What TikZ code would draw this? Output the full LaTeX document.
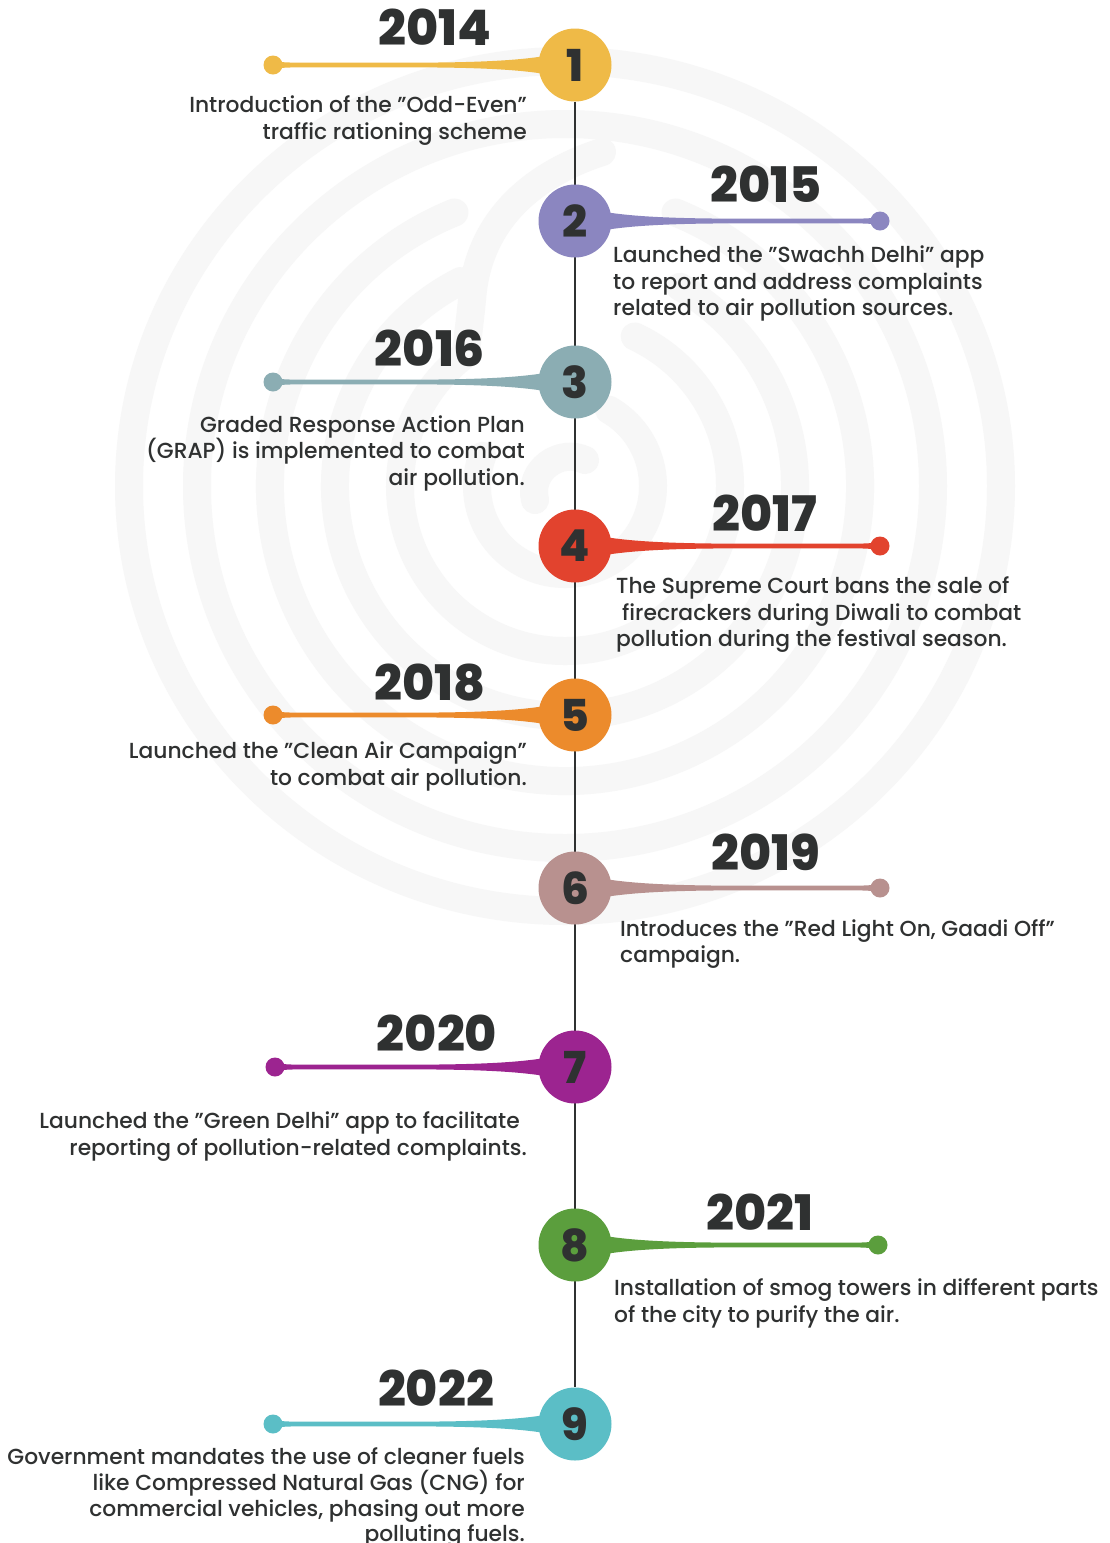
\documentclass[tikz,border=0pt]{standalone}
\usepackage{fontspec}
\setmainfont{Poppins}[UprightFont={* Medium},BoldFont={* ExtraBold}]
\usetikzlibrary{calc,backgrounds}
\definecolor{tdark}{HTML}{2F3131}
\definecolor{bgcol}{HTML}{F7F7F7}
\definecolor{cA}{HTML}{EFBA47}
\definecolor{cB}{HTML}{8B86C0}
\definecolor{cC}{HTML}{8BADB3}
\definecolor{cD}{HTML}{E2432E}
\definecolor{cE}{HTML}{EC8B2C}
\definecolor{cF}{HTML}{B8918F}
\definecolor{cG}{HTML}{9C2490}
\definecolor{cH}{HTML}{5B9E3D}
\definecolor{cI}{HTML}{5BBEC6}
% #1 dot node, #2 circle node, #3 direction from dot to circle (1 or -1), #4 colour
\newcommand\tlconn[4]{%
  \fill[#4] ($(#1)+(0,-4.5)$) .. controls ($(#1)+({10*#3},-2.6)$) .. ($(#1)+({22*#3},-2.4)$)
    -- ($(#2)+({-150*#3},-2.4)$) .. controls ($(#2)+({-90*#3},-2.7)$) and ($(#2)+({-55*#3},-5)$) .. ($(#2)+({-30*#3},-9)$)
    -- ($(#2)+({-30*#3},9)$) .. controls ($(#2)+({-55*#3},5)$) and ($(#2)+({-90*#3},2.7)$) .. ($(#2)+({-150*#3},2.4)$)
    -- ($(#1)+({22*#3},2.4)$) .. controls ($(#1)+({10*#3},2.6)$) .. ($(#1)+(0,4.5)$) -- cycle;}
\begin{document}
\begin{tikzpicture}[x=1pt,y=-1pt,
  bgring/.style={draw=bgcol,line width=28pt,line cap=round},
  tlcircle/.style={circle,minimum size=73pt,inner sep=0pt,text=tdark,font=\fontsize{44}{44}\selectfont\bfseries},
  tldot/.style={circle,minimum size=19pt,inner sep=0pt},
  year/.style={inner sep=0pt,anchor=base,text=tdark,font=\fontsize{49}{49}\selectfont\bfseries},
  lineL/.style={inner sep=0pt,anchor=base west,text=tdark,font=\fontsize{21.8}{26}\selectfont},
  lineR/.style={inner sep=0pt,anchor=base east,text=tdark,font=\fontsize{21.8}{26}\selectfont},
]
\useasboundingbox (0,0) rectangle (1110,1543);

% timeline circles
\node[tlcircle,fill=cA] (c1) at (575,65) {1};
\node[tlcircle,fill=cB] (c2) at (575,221) {2};
\node[tlcircle,fill=cC] (c3) at (575,382) {3};
\node[tlcircle,fill=cD] (c4) at (575,546) {4};
\node[tlcircle,fill=cE] (c5) at (575,715) {5};
\node[tlcircle,fill=cF] (c6) at (575,888) {6};
\node[tlcircle,fill=cG] (c7) at (575,1067) {7};
\node[tlcircle,fill=cH] (c8) at (575,1245) {8};
\node[tlcircle,fill=cI] (c9) at (575,1424) {9};

% end dots
\node[tldot,fill=cA] (d1) at (273,65) {};
\node[tldot,fill=cB] (d2) at (880,221) {};
\node[tldot,fill=cC] (d3) at (273,382) {};
\node[tldot,fill=cD] (d4) at (880,546) {};
\node[tldot,fill=cE] (d5) at (273,715) {};
\node[tldot,fill=cF] (d6) at (880,888) {};
\node[tldot,fill=cG] (d7) at (275,1067) {};
\node[tldot,fill=cH] (d8) at (878,1245) {};
\node[tldot,fill=cI] (d9) at (273,1424) {};

\begin{pgfonlayer}{background}
  \fill[white] (0,0) rectangle (1110,1543);
  % faint fingerprint background
  \coordinate (bgc) at (565,486);
  \draw[bgring] (bgc) ellipse [x radius=436, y radius=425];
  \draw[bgring] (bgc) ellipse [x radius=368, y radius=362];
  \draw[bgring] ($(bgc)+(-112:295)$) arc[start angle=-112, end angle=-428, radius=295];
  \draw[bgring] ($(bgc)+(-117:230)$) arc[start angle=-117, end angle=-420, radius=230];
  \draw[bgring] (602,152) .. controls (540,172) and (478,215) .. (472,300)
     .. controls (470,320) and (468,335) .. ($(bgc)+(-127:165)$)
     arc[start angle=-127, end angle=-425, radius=165];
  \draw[bgring] ($(bgc)+(-160:88)$) arc[start angle=-160, end angle=-420, radius=88];
  \draw[bgring] (535,500) .. controls (528,470) and (560,448) .. (585,460);
  % timeline axis
  \draw[tdark,line width=2.4pt] (c1) -- (c9);
  % connectors
  \tlconn{d1}{c1}{1}{cA}
  \tlconn{d2}{c2}{-1}{cB}
  \tlconn{d3}{c3}{1}{cC}
  \tlconn{d4}{c4}{-1}{cD}
  \tlconn{d5}{c5}{1}{cE}
  \tlconn{d6}{c6}{-1}{cF}
  \tlconn{d7}{c7}{1}{cG}
  \tlconn{d8}{c8}{-1}{cH}
  \tlconn{d9}{c9}{1}{cI}
\end{pgfonlayer}

% years
\node[year] (y1) at (435,45) {2014};
\node[year] (y2) at (766,202) {2015};
\node[year] (y3) at (430,366) {2016};
\node[year] (y4) at (765,531) {2017};
\node[year] (y5) at (430,700) {2018};
\node[year] (y6) at (766,870) {2019};
\node[year] (y7) at (437,1051) {2020};
\node[year] (y8) at (760,1230) {2021};
\node[year] (y9) at (436,1406) {2022};

% descriptions
\node[lineR] (t1a) at (527,112.5) {Introduction of the "Odd-Even"};
\node[lineR] (t1b) at (527,139) {traffic rationing scheme};

\node[lineL] (t2a) at (613,262) {Launched the "Swachh Delhi" app};
\node[lineL] (t2b) at (613,289) {to report and address complaints};
\node[lineL] (t2c) at (613,315) {related to air pollution sources.};

\node[lineR] (t3a) at (525,432) {Graded Response Action Plan};
\node[lineR] (t3b) at (525,458) {(GRAP) is implemented to combat};
\node[lineR] (t3c) at (525,485) {air pollution.};

\node[lineL] (t4a) at (616,593) {The Supreme Court bans the sale of};
\node[lineL] (t4b) at (622,620) {firecrackers during Diwali to combat};
\node[lineL] (t4c) at (616,646) {pollution during the festival season.};

\node[lineR] (t5a) at (527,758) {Launched the "Clean Air Campaign"};
\node[lineR] (t5b) at (527,785) {to combat air pollution.};

\node[lineL] (t6a) at (620,936) {Introduces the "Red Light On, Gaadi Off"};
\node[lineL] (t6b) at (620,962) {campaign.};

\node[lineR] (t7a) at (520,1128) {Launched the "Green Delhi" app to facilitate};
\node[lineR] (t7b) at (527,1155) {reporting of pollution-related complaints.};

\node[lineL] (t8a) at (614,1295) {Installation of smog towers in different parts};
\node[lineL] (t8b) at (614,1322) {of the city to purify the air.};

\node[lineR] (t9a) at (525,1464) {Government mandates the use of cleaner fuels};
\node[lineR] (t9b) at (525,1490) {like Compressed Natural Gas (CNG) for};
\node[lineR] (t9c) at (525,1516) {commercial vehicles, phasing out more};
\node[lineR] (t9d) at (525,1541) {polluting fuels.};
\end{tikzpicture}
\end{document}
